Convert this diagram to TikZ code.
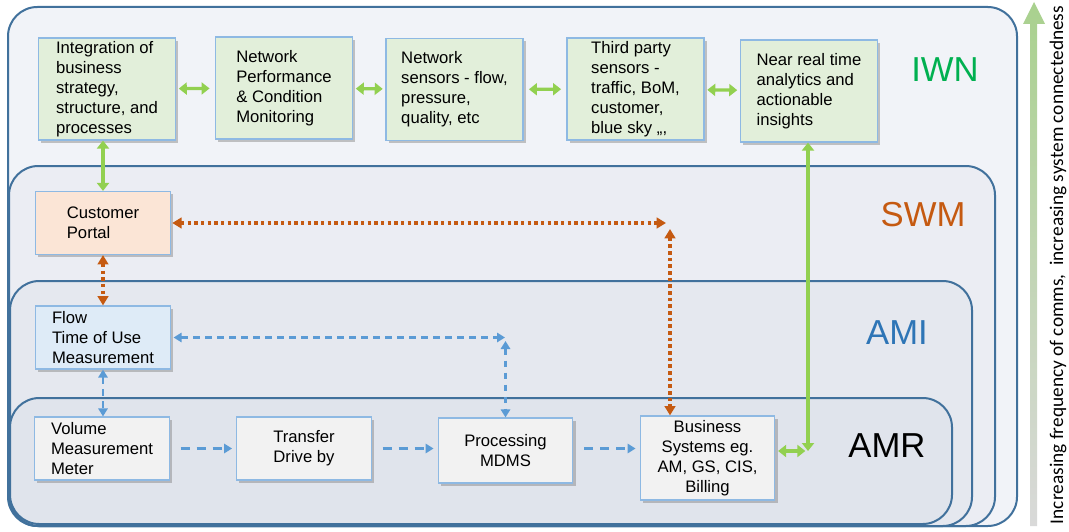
\documentclass[tikz,border=0pt]{standalone}
\usepackage{fontspec}
\setmainfont{Liberation Sans}
\newfontfamily\calibri{Carlito}
\usetikzlibrary{arrows.meta,shadows}

\definecolor{layerline}{HTML}{41719C}
\definecolor{iwnfill}{HTML}{F1F3F8}
\definecolor{swmfill}{HTML}{EBEDF3}
\definecolor{amifill}{HTML}{E5E8EF}
\definecolor{amrfill}{HTML}{E0E4EC}
\definecolor{unitline}{HTML}{8EB9E3}
\definecolor{iwnbox}{HTML}{E2EFDA}
\definecolor{portalbox}{HTML}{FBE5D6}
\definecolor{flowbox}{HTML}{DEEBF7}
\definecolor{amrbox}{HTML}{F2F2F2}
\definecolor{linkgreen}{HTML}{92D050}
\definecolor{linkorange}{HTML}{C55A11}
\definecolor{linkblue}{HTML}{5B9BD5}
\definecolor{iwntext}{HTML}{00B050}
\definecolor{amitext}{HTML}{2E75B6}
\definecolor{trendgreen}{HTML}{A9D18E}
\definecolor{trendgrey}{HTML}{D9D9D9}

\begin{document}
\begin{tikzpicture}[x=0.75pt,y=-0.75pt,
		layer/.style={draw=layerline, line width=1.5pt, rounded corners=22pt},
		unit/.style={draw=unitline, line width=0.9pt, align=left, inner sep=2pt,
			font=\fontsize{12.5}{15}\selectfont,
			drop shadow={shadow xshift=2pt, shadow yshift=-2pt, fill=black!50, opacity=0.45}},
		topunit/.style={unit, fill=iwnbox, minimum width=102.75pt, minimum height=76.5pt},
		lowunit/.style={unit, minimum width=101pt, minimum height=47.25pt},
		tag/.style={font=\fontsize{26}{30}\selectfont},
		greenlink/.style={{Triangle[length=6pt,width=9pt]}-{Triangle[length=6pt,width=9pt]}, draw=linkgreen, line width=2.4pt},
		orangelink/.style={{Triangle[length=7pt,width=8pt]}-{Triangle[length=7pt,width=8pt]}, draw=linkorange, line width=2.8pt, dash pattern=on 2.6pt off 2.4pt},
		bluelink/.style={{Triangle[length=6pt,width=7pt]}-{Triangle[length=6pt,width=7pt]}, draw=linkblue, line width=1.6pt, dash pattern=on 5pt off 4pt},
		blueflow/.style={-{Triangle[length=6pt,width=7pt]}, draw=linkblue, line width=1.6pt, dash pattern=on 7pt off 5pt, shorten <=8pt, shorten >=3pt}]

	\useasboundingbox (0,0) rectangle (1069,531);

	% nested layers
	\draw[layer, fill=iwnfill] (8,7) rectangle (1017,526);
	\draw[layer, fill=swmfill] (9,166) rectangle (995,526);
	\draw[layer, fill=amifill] (10,281) rectangle (972,526);
	\draw[layer, fill=amrfill] (10,398) rectangle (952,524);

	\node[tag, text=iwntext] (iwn) at (945,70) {IWN};
	\node[tag, text=linkorange] (swm) at (923,215) {SWM};
	\node[tag, text=amitext] (ami) at (897,333) {AMI};
	\node[tag] (amr) at (887,446) {AMR};

	% IWN row
	\node[topunit] (integ) at (107,89) {Integration of\\business\\strategy,\\structure, and\\processes};
	\node[topunit] (netperf) at (284,88) {Network\\Performance\\\& Condition\\Monitoring};
	\node[topunit] (netsens) at (454.5,89.5) {Network\\sensors - flow,\\pressure,\\quality, etc};
	\node[topunit] (third) at (635.5,89) {Third party\\sensors -\\traffic, BoM,\\customer,\\blue sky ,,,};
	\node[topunit] (insight) at (809,91) {Near real time\\analytics and\\actionable\\insights};

	\draw[greenlink, shorten <=2pt, shorten >=4pt] (integ) -- (netperf);
	\draw[greenlink, shorten <=2pt, shorten >=2pt] (netperf) -- (netsens);
	\draw[greenlink, shorten <=4pt, shorten >=4pt] (netsens) -- (third);
	\draw[greenlink, shorten <=2pt, shorten >=2pt] (third) -- (insight);

	% SWM, AMI and AMR boxes
	\node[lowunit, fill=portalbox] (portal) at (103,223) {Customer\\Portal};
	\node[lowunit, fill=flowbox] (flow) at (103,337.5) {Flow\\Time of Use\\Measurement};
	\node[lowunit, fill=amrbox] (volume) at (102,448.5) {Volume\\Measurement\\Meter};
	\node[lowunit, fill=amrbox, align=center] (transfer) at (304,448.5) {Transfer\\Drive by};
	\node[lowunit, fill=amrbox, align=center, minimum height=48.75pt] (proc) at (505.5,450.5) {Processing\\MDMS};
	\node[lowunit, fill=amrbox, align=center, minimum height=63pt] (business) at (707.5,458) {Business\\Systems eg.\\AM, GS, CIS,\\Billing};

	\coordinate (orangeturn) at (666,222);
	\coordinate (orangedrop) at (670,229);
	\coordinate (blueturn) at (505,335);
	\coordinate (bluedrop) at (505.5,341);
	\coordinate (greenjoin) at (808,451);

	\draw[greenlink] (portal.north |- integ.south) -- (portal.north);
	\draw[greenlink] (insight.south -| greenjoin) -- (greenjoin);
	\draw[greenlink, shorten <=2pt] (business.east |- greenjoin) -- ([xshift=-2pt]greenjoin);

	\draw[orangelink] (portal.south) -- (flow.north);
	\draw[orangelink, shorten <=1pt] (portal.east) -- (portal.east -| orangeturn);
	\draw[orangelink] (orangedrop) -- (orangedrop |- business.north);

	\draw[bluelink] (flow.south) -- (flow.south |- volume.north);
	\draw[bluelink, shorten <=2pt] (flow.east) -- (flow.east -| blueturn);
	\draw[bluelink] (bluedrop) -- (proc.north);

	\draw[blueflow] (volume) -- (transfer);
	\draw[blueflow] (transfer) -- (transfer -| proc.west);
	\draw[blueflow] (proc.east |- transfer) -- (business.west |- transfer);

	% trend arrow
	\shade[bottom color=trendgrey, top color=trendgreen] (1030,526) -- (1030,24) -- (1023,24) -- (1034,2) -- (1045,24) -- (1037,24) -- (1037,526) -- cycle;
	\node[rotate=90, font=\calibri\fontsize{14.5}{16}\selectfont] (trend) at (1058,265) {Increasing frequency of comms,~ increasing system connectedness};

\end{tikzpicture}
\end{document}
